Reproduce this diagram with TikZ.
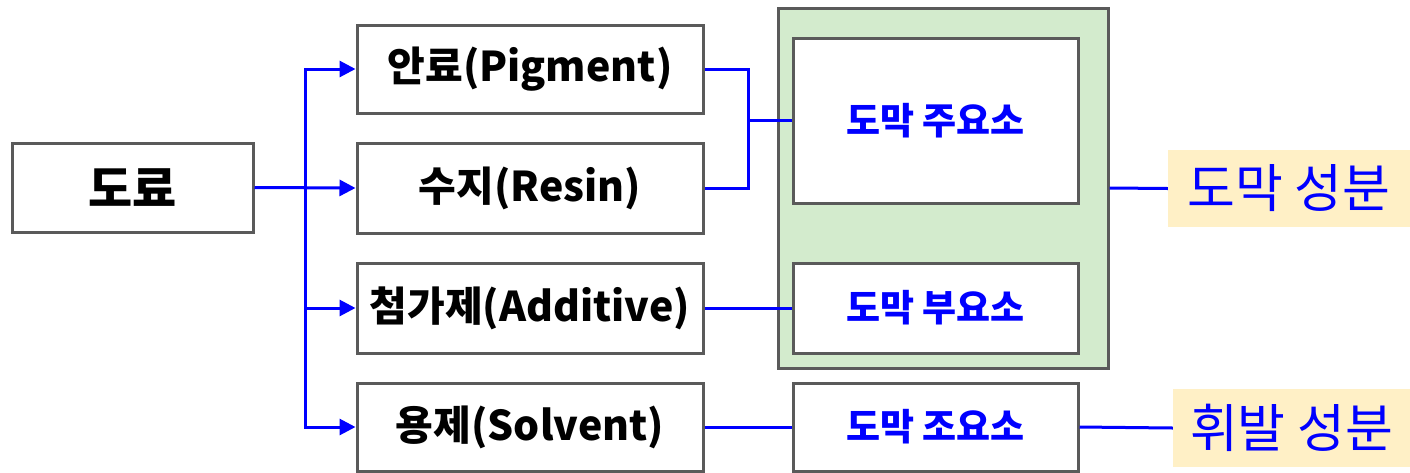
\documentclass[tikz,border=0pt]{standalone}
\usepackage{fontspec}
\setmainfont{Noto Sans CJK KR}
\usetikzlibrary{arrows.meta}
\definecolor{boxline}{RGB}{90,90,90}
\definecolor{greenfill}{RGB}{211,235,205}
\definecolor{labfill}{RGB}{255,240,198}
\definecolor{pureblue}{RGB}{0,0,255}
\begin{document}
\begin{tikzpicture}[x=1pt,y=-1pt,
  box/.style={draw=boxline,line width=3pt,fill=white,inner sep=0pt,font=\fontsize{41}{43}\selectfont\bfseries},
  inbox/.style={draw=boxline,line width=3pt,fill=white,inner sep=0pt,text=pureblue,font=\fontsize{37}{39}\selectfont\bfseries},
  label/.style={fill=labfill,inner sep=0pt,text=pureblue,font=\fontsize{52}{54}\selectfont},
  conn/.style={draw=pureblue,line width=3pt},
  arr/.style={conn,-{Triangle[length=16pt,width=16pt]}}]
\useasboundingbox (0,0) rectangle (1410,472);
% containers
\node[draw=boxline,line width=3pt,fill=greenfill,minimum width=330pt,minimum height=360pt] (grp) at (943,188) {};
% left nodes
\node[box,minimum width=241pt,minimum height=89pt,font=\fontsize{48}{50}\selectfont\bfseries] (doryo) at (132.5,187.5) {도료};
\node[box,minimum width=346pt,minimum height=88pt] (pig) at (530,69) {안료(Pigment)};
\node[box,minimum width=346pt,minimum height=90pt] (resin) at (530,188) {수지(Resin)};
\node[box,minimum width=346pt,minimum height=90pt] (add) at (530,308) {첨가제(Additive)};
\node[box,minimum width=346pt,minimum height=88pt] (solv) at (530,427) {용제(Solvent)};
% inner nodes
\node[inbox,minimum width=285pt,minimum height=165pt] (main) at (935.5,120.5) {도막 주요소};
\node[inbox,minimum width=285pt,minimum height=90pt] (sub) at (935.5,308) {도막 부요소};
\node[inbox,minimum width=285pt,minimum height=88pt] (aux) at (935.5,427) {도막 조요소};
% labels
\node[label,minimum width=242pt,minimum height=77pt] (lab1) at (1289,188.5) {도막 성분};
\node[label,minimum width=237pt,minimum height=78pt] (lab2) at (1291.5,428) {휘발 성분};
% connectors
\coordinate (j) at (305,188);
\coordinate (m) at (748,188);
\coordinate (k) at (748,120.5);
\draw[arr] (doryo.east) -- (resin.west);
\draw[arr] (j) |- (pig.west);
\draw[arr] (j) |- (add.west);
\draw[arr] (j) |- (solv.west);
\draw[conn] (pig.east) -| (m) -- (resin.east);
\draw[conn] (k) -- (main.west);
\draw[conn] (add.east) -- (sub.west);
\draw[conn] (solv.east) -- (aux.west);
\draw[conn] (grp.east) -- (lab1.west);
\draw[conn] (aux.east) -- (lab2.west);
\end{tikzpicture}
\end{document}
